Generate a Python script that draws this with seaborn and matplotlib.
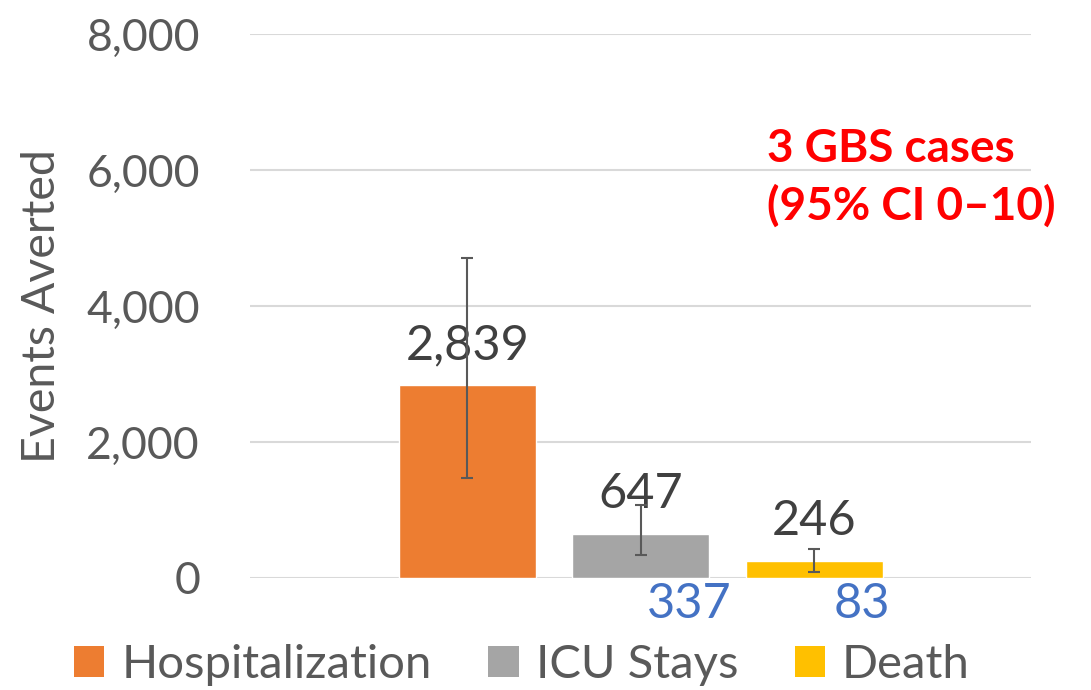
import numpy as np
import pandas as pd
import matplotlib
matplotlib.use("Agg")
import matplotlib.pyplot as plt
from matplotlib.patches import Patch
import seaborn as sns

# ---- data ----
categories = ["Hospitalization", "ICU Stays", "Death"]
values = [2839, 647, 246]
ci_lower = [1475, 337, 83]
ci_upper = [4700, 1070, 426]
lower_labels = ["", "337", "83"]
colors = ["#ED7D31", "#A5A5A5", "#FFC000"]
yticks = [0, 2000, 4000, 6000, 8000]
ylabel = "Events Averted"
note_lines = ["3 GBS cases", "(95% CI 0\u201310)"]

sns.set_theme(style="white")
plt.rcParams["font.family"] = ["Lato", "DejaVu Sans"]

W, H = 1091, 690
fig = plt.figure(figsize=(W / 100, H / 100), dpi=100)
ax = fig.add_axes([250 / W, 1 - 578 / H, (1031 - 250) / W, (578 - 34) / H])

df = pd.DataFrame({"cat": categories, "val": values})
sns.barplot(data=df, x="cat", y="val", hue="cat", palette=colors,
            width=0.79, legend=False, ax=ax, saturation=1)

pos = np.arange(len(categories))
vals = np.array(values, dtype=float)
lo = np.array(ci_lower, dtype=float)
hi = np.array(ci_upper, dtype=float)
ax.errorbar(pos, vals, yerr=[vals - lo, hi - vals], fmt="none",
            ecolor="#595959", elinewidth=1.5, capsize=4, capthick=1.5, zorder=5)

ax.set_xlim(-1.2525, 3.249)
ax.set_ylim(0, 8000)
ax.set_yticks(yticks)
ax.set_yticklabels([f"{t:,}" for t in yticks])
ax.tick_params(axis="y", length=0, pad=36, labelsize=32, labelcolor="#595959")
ax.set_xticks([])
ax.set_xlabel("")
ax.set_ylabel("")
for s in ax.spines.values():
    s.set_visible(False)
ax.set_axisbelow(True)
ax.yaxis.grid(True, color="#D9D9D9", linewidth=1.5)

# data labels
for i, v in enumerate(values):
    ax.annotate(f"{v:,}", xy=(pos[i], v), xytext=(0, 18.7), textcoords="offset points",
                ha="center", va="baseline", fontsize=35, color="#404040")
for i, lab in enumerate(lower_labels):
    if lab:
        ax.annotate(lab, xy=(pos[i], 0), xytext=(34.6, -18.7), textcoords="offset points",
                    ha="center", va="center", fontsize=35, color="#4472C4")

fig.text(42 / W, 1 - 306 / H, ylabel, rotation=90, ha="center", va="center",
         fontsize=33.5, color="#595959")

fig.text(767 / W, 1 - 162 / H, note_lines[0], ha="left", va="baseline",
         fontsize=33, fontweight="bold", color="#FF0000")
fig.text(767 / W, 1 - 220 / H, note_lines[1], ha="left", va="baseline",
         fontsize=33, fontweight="bold", color="#FF0000")

handles = [Patch(facecolor=c, edgecolor="none", label=l) for c, l in zip(colors, categories)]
fig.legend(handles=handles, loc="center", bbox_to_anchor=(522 / W, 1 - 665 / H),
           ncol=3, frameon=False, fontsize=34, labelcolor="#595959",
           handlelength=0.64, handleheight=0.64, handletextpad=0.36,
           columnspacing=1.2, borderpad=0, borderaxespad=0)

fig.savefig("out.png", dpi=100)
